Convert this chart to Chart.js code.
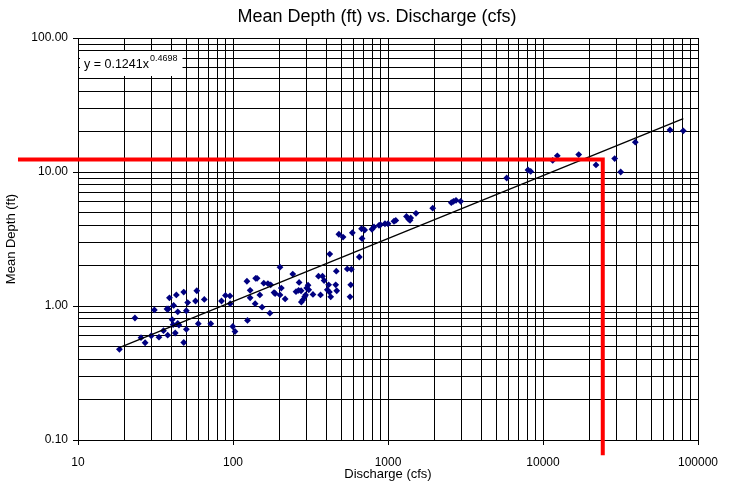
<!DOCTYPE html>
<html><head><meta charset="utf-8">
<script src="https://cdn.jsdelivr.net/npm/chart.js@4.4.0/dist/chart.umd.min.js"></script>
<style>html,body{margin:0;padding:0;background:#fff;overflow:hidden}#wrap{width:731px;height:484px}</style>
</head><body><div id="wrap"><canvas id="c" width="731" height="484"></canvas></div>
<script>
// ---- data ----
const discharge = [18.5, 23.3, 25.5, 27.1, 29.7, 31.1, 33.3, 35.6, 37.9, 37.5,
  38.2, 38.9, 41.4, 40.5, 41.1, 42.4, 43.1, 44.0, 44.0, 44.8,
  48.1, 50.0, 51.0, 50.0, 48.1, 58.4, 57.3, 59.7, 65.3, 71.9,
  84.3, 89.4, 95.6, 95.9, 99.7, 103, 123, 124, 129, 129,
  140, 143, 149, 139, 154, 158, 168, 175, 173, 184,
  187, 201, 205, 201, 217, 243, 267, 255, 265, 275,
  282, 276, 290, 299, 305, 308, 294, 328, 356, 378,
  387, 367, 414, 406, 419, 427, 421, 460, 464, 467,
  546, 580, 575, 569, 482, 513, 589, 653, 675, 707,
  680, 788, 812, 875, 894, 956, 1000, 1093, 1123, 1316,
  1356, 1387, 1401, 1516, 1943, 2561, 2646, 2746, 2944, 5832,
  8004, 8330, 11550, 12370, 17000, 21980, 29000, 31720, 39400, 65970, 80400];
const meanDepth = [0.475, 0.814, 0.580, 0.532, 0.600, 0.934, 0.585, 0.654, 0.606, 0.950,
  0.950, 1.15, 1.01, 0.790, 0.725, 0.629, 1.21, 0.905, 0.740, 0.721,
  1.27, 0.922, 1.06, 0.670, 0.534, 1.30, 1.09, 0.738, 1.12, 0.738,
  1.09, 1.20, 1.19, 1.04, 0.703, 0.645, 1.53, 0.780, 1.31, 1.15,
  1.61, 1.61, 1.21, 1.04, 0.98, 1.48, 1.47, 1.44, 0.884, 1.26,
  1.24, 1.95, 1.36, 1.21, 1.13, 1.73, 1.50, 1.28, 1.31, 1.30,
  1.11, 1.07, 1.17, 1.36, 1.43, 1.32, 1.21, 1.22, 1.67, 1.67,
  1.55, 1.21, 1.44, 1.32, 1.27, 1.17, 2.44, 1.44, 1.82, 1.30,
  1.89, 1.88, 1.44, 1.17, 3.43, 3.27, 3.52, 2.32, 3.77, 3.69,
  3.19, 3.74, 3.89, 4.00, 4.04, 4.11, 4.11, 4.29, 4.35, 4.66,
  4.46, 4.36, 4.54, 4.92, 5.37, 5.90, 6.04, 6.15, 6.04, 9.02,
  10.35, 10.1, 12.2, 13.2, 13.5, 11.3, 12.6, 10.0, 16.7, 20.6, 20.3];

// power trendline y = a * x^b (as printed on the chart), spanning the data range
const trendCoef = 0.1241;
const trendExp = 0.4698;
const trendRange = [18.5, 80400];

// red design read-off lines
const designDischarge = [4.1, 24300, 24300];
const designDepth = [12.4, 12.4, 0.077];

// axis ticks
const xMajorValues = [10, 100, 1000, 10000, 100000];
const xTickLabels = ['10', '100', '1000', '10000', '100000'];
const yMajorValues = [0.1, 1, 10, 100];
const yTickLabels = ['0.10', '1.00', '10.00', '100.00'];

const titleText = 'Mean Depth (ft) vs. Discharge (cfs)';
const xTitle = 'Discharge (cfs)';
const yTitle = 'Mean Depth (ft)';

// ---- build ----
function decadeTicks(majors) {
  const out = [];
  for (let i = 0; i < majors.length - 1; i++) {
    for (let m = 1; m <= 9; m++) out.push(Number((m * majors[i]).toPrecision(10)));
  }
  out.push(majors[majors.length - 1]);
  return out;
}
const xTicks = decadeTicks(xMajorValues);
const yTicks = decadeTicks(yMajorValues);
const isMajorIn = (arr, v) => arr.some(m => Math.abs(m - v) / m < 1e-9);
const labelOf = (arr, labels, v) => { const i = arr.findIndex(m => Math.abs(m - v) / m < 1e-9); return i >= 0 ? labels[i] : ''; };

const points = discharge.map((x, i) => ({x, y: meanDepth[i]}));
const trend = trendRange.map(x => ({x, y: trendCoef * Math.pow(x, trendExp)}));
const red = designDischarge.map((x, i) => ({x, y: designDepth[i]}));

const FONT = '"Liberation Sans", Arial, sans-serif';

const annot = {
  id: 'annot',
  beforeDatasetsDraw(chart) {
    const {ctx, chartArea: a} = chart;
    ctx.save();
    const mainTxt = 'y = ' + trendCoef + 'x';
    const supTxt = String(trendExp);
    ctx.font = '12.5px ' + FONT;
    const w1 = ctx.measureText(mainTxt).width;
    ctx.font = '9px ' + FONT;
    const w2 = ctx.measureText(supTxt).width;
    const bx = a.left + 2, by = a.top + 13, bw = w1 + w2 + 10, bh = 25;
    ctx.fillStyle = '#fff';
    ctx.fillRect(bx, by, bw, bh);
    ctx.fillStyle = '#000';
    ctx.textBaseline = 'alphabetic';
    ctx.textAlign = 'left';
    ctx.font = '12.5px ' + FONT;
    ctx.fillText(mainTxt, bx + 4, by + 17);
    ctx.font = '9px ' + FONT;
    ctx.fillText(supTxt, bx + 4 + w1 + 1, by + 10);
    ctx.restore();
  },
  afterDraw(chart) {
    const {ctx} = chart;
    ctx.save();
    ctx.fillStyle = '#000';
    ctx.font = '18px ' + FONT;
    ctx.textAlign = 'center';
    ctx.textBaseline = 'middle';
    ctx.fillText(titleText, 377, 17);
    ctx.restore();
  }
};

const gridCfg = (majors) => ({
  color: '#000',
  lineWidth: 1,
  drawTicks: true,
  tickLength: 5,
  tickColor: (c) => (c.tick && isMajorIn(majors, c.tick.value)) ? '#000' : 'rgba(0,0,0,0)'
});

new Chart(document.getElementById('c'), {
  data: {
    datasets: [
      {type: 'line', data: red, borderColor: '#ff0000', borderWidth: 4, pointRadius: 0, clip: false, order: 0, tension: 0},
      {type: 'line', data: trend, borderColor: '#000', borderWidth: 1.3, pointRadius: 0, order: 1, tension: 0},
      {type: 'scatter', data: points, pointStyle: 'rectRot', pointRadius: 3.4, backgroundColor: '#000080', borderColor: '#000080', borderWidth: 0, order: 2}
    ]
  },
  options: {
    responsive: false,
    animation: false,
    events: [],
    layout: {padding: {top: 38, right: 33, left: 0, bottom: 0}},
    plugins: {legend: {display: false}, tooltip: {enabled: false}, title: {display: false}},
    scales: {
      x: {
        type: 'logarithmic', position: 'bottom', min: 10, max: 100000,
        afterBuildTicks: s => { s.ticks = xTicks.map(v => ({value: v, major: false})); },
        afterFit: s => { s.height = 44; },
        ticks: {autoSkip: false, maxRotation: 0, minRotation: 0, padding: 10, color: '#000', font: {size: 12, family: FONT},
          callback: v => labelOf(xMajorValues, xTickLabels, v)},
        grid: gridCfg(xMajorValues),
        border: {display: true, color: '#000', width: 1},
        title: {display: true, text: xTitle, color: '#000', font: {size: 13, family: FONT}, padding: {top: 0, bottom: 2}}
      },
      y: {
        type: 'logarithmic', position: 'left', min: 0.1, max: 100,
        afterBuildTicks: s => { s.ticks = yTicks.map(v => ({value: v, major: false})); },
        afterFit: s => { s.width = 78; },
        ticks: {autoSkip: false, padding: 5, color: '#000', font: {size: 12, family: FONT},
          callback: v => labelOf(yMajorValues, yTickLabels, v)},
        grid: gridCfg(yMajorValues),
        border: {display: true, color: '#000', width: 1},
        title: {display: true, text: yTitle, color: '#000', font: {size: 13, family: FONT}, padding: {top: 4, bottom: 0}}
      }
    }
  },
  plugins: [annot]
});
</script>
</body></html>
